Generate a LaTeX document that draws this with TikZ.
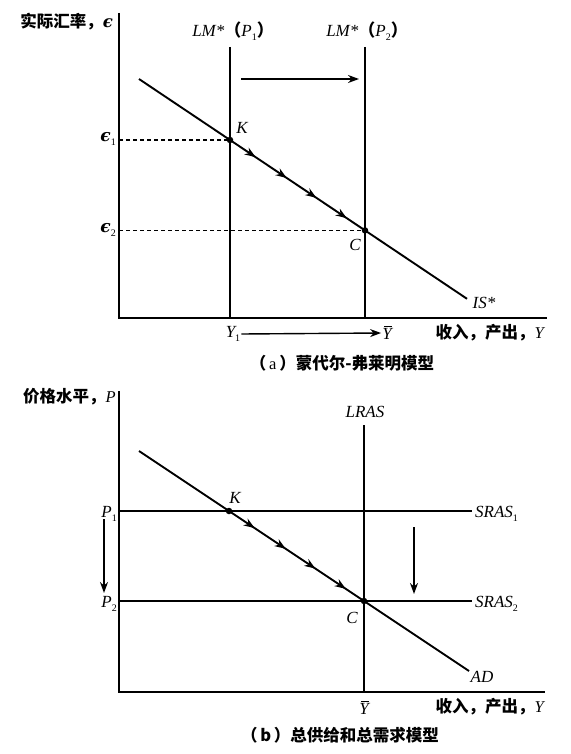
\documentclass[tikz,border=0pt]{standalone}
\usepackage{fontspec}
\setmainfont{Liberation Serif}
\newfontfamily\cjk{Noto Sans CJK SC}
\newfontfamily\grk{DejaVu Serif}
\usetikzlibrary{arrows.meta,decorations.markings}
\newcommand{\ybar}{\begingroup\itshape\setbox0\hbox{Y}\leavevmode\rlap{\kern1.8pt\raisebox{\dimexpr\ht0+1.6pt\relax}{\rule{\dimexpr\wd0-2pt\relax}{0.8pt}}}\box0\endgroup}
\newcommand{\zh}[1]{{\upshape\cjk\bfseries #1}}
\newcommand{\lat}[1]{{\rmfamily\mdseries\itshape #1}}
\newcommand{\sub}[1]{\raisebox{-4pt}{\fontsize{10}{12}\selectfont\upshape #1}}
\newcommand{\eps}{{\grk\bfseries\itshape ϵ}}
\begin{document}
\begin{tikzpicture}[x=1pt,y=-1pt,
 axis/.style={line width=2pt},
 curve/.style={line width=1.9pt},
 dashline/.style={dash pattern=on 4pt off 3pt, line width=1.2pt},
 shiftarrow/.style={line width=1.4pt,-{Stealth[length=11pt,width=8pt]}},
 lbl/.style={font=\fontsize{17}{20}\selectfont\itshape, inner sep=1pt},
 zhlbl/.style={font=\fontsize{16.5}{20}\selectfont\cjk\bfseries, inner sep=1pt},
 dotn/.style={circle,fill,inner sep=0pt,minimum size=6.5pt},
 flow/.style={postaction=decorate, decoration={markings,
   mark=at position 0.19 with {\arrow{Stealth[length=11pt,width=8pt]}},
   mark=at position 0.42 with {\arrow{Stealth[length=11pt,width=8pt]}},
   mark=at position 0.64 with {\arrow{Stealth[length=11pt,width=8pt]}},
   mark=at position 0.865 with {\arrow{Stealth[length=11pt,width=8pt]}}}}
]
\path[use as bounding box, fill=white] (0,0) rectangle (570,754);

% ---------------- Panel (a) ----------------
\coordinate (Atop) at (119,13);
\coordinate (Aorig) at (119,318);
\coordinate (Aend) at (547,318);
\draw[axis] (Atop) -- (Aorig) -- (Aend);

\coordinate (L1top) at (230,47);
\coordinate (L1bot) at (230,318);
\coordinate (L2top) at (365,47);
\coordinate (L2bot) at (365,318);
\draw[curve] (L1top) -- (L1bot);
\draw[curve] (L2top) -- (L2bot);
\node[lbl] (lm1) at (233,31) {LM*\zh{（}P\sub{1}\zh{）}};
\node[lbl] (lm2) at (367,31) {LM*\zh{（}P\sub{2}\zh{）}};

\coordinate (sh1) at (241,79);
\coordinate (sh2) at (359,79);
\draw[shiftarrow] (sh1) -- (sh2);

\coordinate (IS0) at (139,79);
\coordinate (Ka) at (230,140);
\coordinate (Ca) at (365,230.4);
\coordinate (IS1) at (467,298.8);
\draw[curve] (IS0) -- (Ka);
\draw[curve,flow] (Ka) -- (Ca);
\draw[curve] (Ca) -- (IS1);
\node[dotn] (Kadot) at (Ka) {};
\node[dotn] (Cadot) at (Ca) {};
\node[lbl] (Kalbl) at (242,128) {K};
\node[lbl] (Calbl) at (355,245) {C};
\node[lbl] (ISlbl) at (484,303) {IS*};

\coordinate (e1) at (119,140);
\coordinate (e2) at (119,230.4);
\draw[dashline] (e1) -- (Kadot.center);
\draw[dashline] (e2) -- (Cadot.center);
\node[lbl, anchor=east] (e1lbl) at (117,139) {\eps\sub{1}};
\node[lbl, anchor=east] (e2lbl) at (117,230) {\eps\sub{2}};

\node[lbl] (Y1lbl) at (233,334) {Y\sub{1}};
\node[lbl] (Ybara) at (387,333) {\ybar};
\draw[shiftarrow] (Y1lbl.east) -- (Ybara.west);
\node[zhlbl, anchor=east] (xla) at (545,333) {收入，产出，\lat{Y}};
\node[zhlbl, anchor=east] (yla) at (114,22) {实际汇率，\eps};
\node[zhlbl] (capa) at (342,363) {（\,{\rmfamily\mdseries a}\,）蒙代尔-弗莱明模型};

% ---------------- Panel (b) ----------------
\coordinate (Btop) at (119,391);
\coordinate (Borig) at (119,692);
\coordinate (Bend) at (545,692);
\draw[axis] (Btop) -- (Borig) -- (Bend);

\coordinate (LRtop) at (364,425);
\coordinate (LRbot) at (364,692);
\draw[curve] (LRtop) -- (LRbot);
\node[lbl] (LRlbl) at (365,412) {LRAS};

\coordinate (S1a) at (119,511);
\coordinate (S1b) at (472,511);
\coordinate (S2a) at (119,601);
\coordinate (S2b) at (472,601);
\draw[line width=2.4pt] (S1a) -- (S1b);
\draw[curve] (S2a) -- (S2b);
\node[lbl, anchor=west] (S1lbl) at (474,514) {SRAS\sub{1}};
\node[lbl, anchor=west] (S2lbl) at (474,604) {SRAS\sub{2}};

\coordinate (AD0) at (139,451);
\coordinate (Kb) at (229,511);
\coordinate (Cb) at (364,601);
\coordinate (AD1) at (469,671);
\draw[curve] (AD0) -- (Kb);
\draw[curve,flow] (Kb) -- (Cb);
\draw[curve] (Cb) -- (AD1);
\node[dotn] (Kbdot) at (Kb) {};
\node[dotn] (Cbdot) at (Cb) {};
\node[lbl] (Kblbl) at (235,498) {K};
\node[lbl] (Cblbl) at (352,618) {C};
\node[lbl] (ADlbl) at (482,677) {AD};

\node[lbl, anchor=east] (P1lbl) at (118,514) {P\sub{1}};
\node[lbl, anchor=east] (P2lbl) at (118,604) {P\sub{2}};
\coordinate (la1) at (104,519);
\coordinate (la2) at (104,593);
\draw[shiftarrow] (la1) -- (la2);
\coordinate (ra1) at (414,527);
\coordinate (ra2) at (414,594);
\draw[shiftarrow] (ra1) -- (ra2);

\node[lbl] (Ybarb) at (364,708) {\ybar};
\node[zhlbl, anchor=east] (xlb) at (545,707) {收入，产出，\lat{Y}};
\node[zhlbl, anchor=east] (ylb) at (117,397) {价格水平，\lat{P}};
\node[zhlbl] (capb) at (340,735) {（\,b\,）总供给和总需求模型};
\end{tikzpicture}
\end{document}
